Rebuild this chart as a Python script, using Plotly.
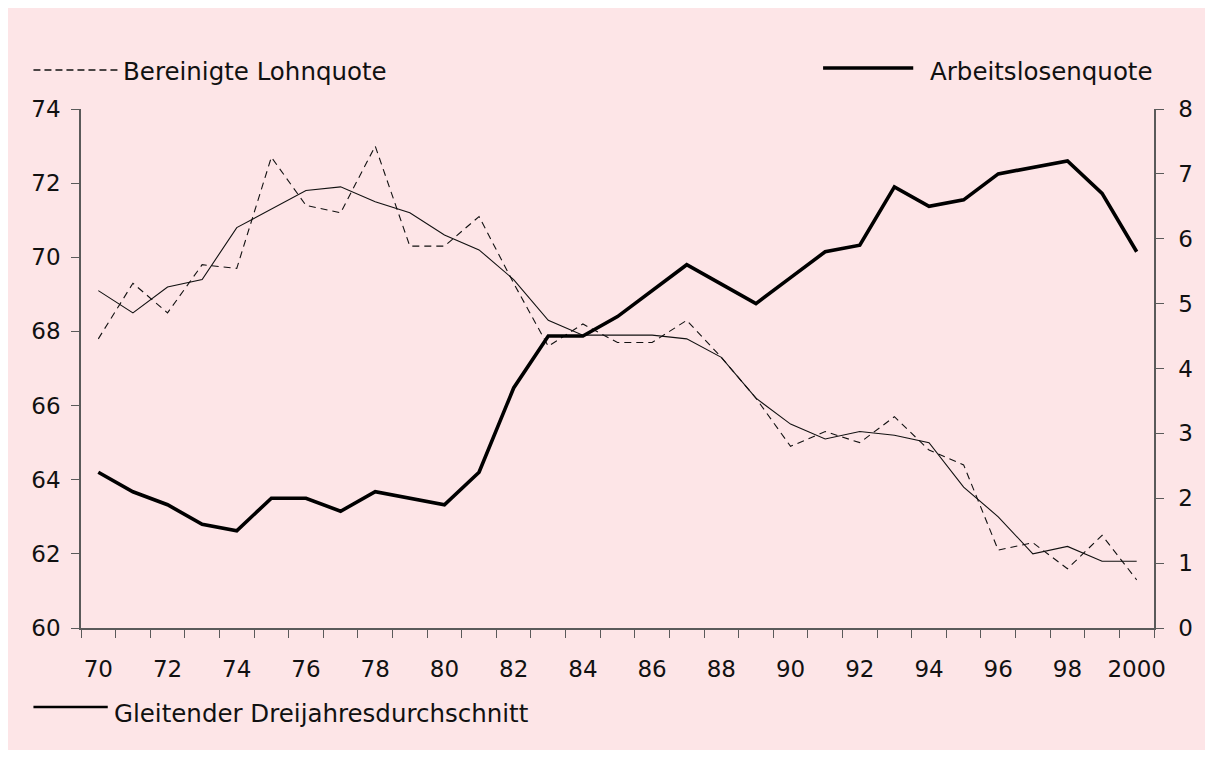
import plotly.graph_objects as go

years = list(range(1970, 2001))
lohnquote = [67.8, 69.3, 68.5, 69.8, 69.7, 72.7, 71.4, 71.2, 73.0, 70.3,
             70.3, 71.1, 69.3, 67.6, 68.2, 67.7, 67.7, 68.3, 67.3, 66.2,
             64.9, 65.3, 65.0, 65.7, 64.8, 64.4, 62.1, 62.3, 61.6, 62.5, 61.3]
gleitend = [69.1, 68.5, 69.2, 69.4, 70.8, 71.3, 71.8, 71.9, 71.5, 71.2,
            70.6, 70.2, 69.4, 68.3, 67.9, 67.9, 67.9, 67.8, 67.3, 66.2,
            65.5, 65.1, 65.3, 65.2, 65.0, 63.8, 63.0, 62.0, 62.2, 61.8, 61.8]
arbeitslos = [2.4, 2.1, 1.9, 1.6, 1.5, 2.0, 2.0, 1.8, 2.1, 2.0,
              1.9, 2.4, 3.7, 4.5, 4.5, 4.8, 5.2, 5.6, 5.3, 5.0,
              5.4, 5.8, 5.9, 6.8, 6.5, 6.6, 7.0, 7.1, 7.2, 6.7, 5.8]
x_tickvals = list(range(1970, 2001, 2))
x_ticktext = ["70", "72", "74", "76", "78", "80", "82", "84", "86", "88",
              "90", "92", "94", "96", "98", "2000"]
name_lohn = "Bereinigte Lohnquote"
name_alq = "Arbeitslosenquote"
name_gleit = "Gleitender Dreijahresdurchschnitt"

OFF = 8  # page body margin
W, H = 1213 - 2 * OFF, 758 - 2 * OFF
L, R, T, B = 81 - OFF, 1164 - OFF, 109 - OFF, 628 - OFF
PINK = "#FDE5E7"
AX = "#5a5a5a"
FONT = "DejaVu Sans"
FS = 23
FS_LEG = 24.5

fig = go.Figure()
fig.add_trace(go.Scatter(x=years, y=lohnquote, mode="lines", name=name_lohn,
                         line=dict(color="#111", width=1.1, dash="7px,5px")))
fig.add_trace(go.Scatter(x=years, y=gleitend, mode="lines", name=name_gleit,
                         line=dict(color="#111", width=1.1)))
fig.add_trace(go.Scatter(x=years, y=arbeitslos, mode="lines", name=name_alq,
                         yaxis="y2", line=dict(color="#000", width=3.6)))


def px(xs):
    return (xs - OFF - L) / (R - L)


def py(ys):
    return (B - (ys - OFF)) / (B - T)


shapes = [
    dict(type="line", xref="paper", yref="paper", x0=px(33), x1=px(118),
         y0=py(70), y1=py(70), line=dict(color="#111", width=1.3, dash="7px,4px")),
    dict(type="line", xref="paper", yref="paper", x0=px(830), x1=px(921),
         y0=py(68), y1=py(68), line=dict(color="#000", width=3.4)),
    dict(type="line", xref="paper", yref="paper", x0=px(33), x1=px(108),
         y0=py(707), y1=py(707), line=dict(color="#000", width=2.6)),
]
annotations = [
    dict(text=name_lohn, xref="paper", yref="paper", x=px(121), y=py(71),
         xanchor="left", yanchor="middle", showarrow=False,
         font=dict(family=FONT, size=FS_LEG, color="#111")),
    dict(text=name_alq, xref="paper", yref="paper", x=px(936), y=py(71),
         xanchor="left", yanchor="middle", showarrow=False,
         font=dict(family=FONT, size=FS_LEG, color="#111")),
    dict(text=name_gleit, xref="paper", yref="paper", x=px(112), y=py(713),
         xanchor="left", yanchor="middle", showarrow=False,
         font=dict(family=FONT, size=FS_LEG, color="#111")),
]

fig.update_layout(
    width=W, height=H,
    margin=dict(l=L, r=W - R, t=T, b=H - B, pad=0),
    paper_bgcolor=PINK, plot_bgcolor=PINK,
    showlegend=False,
    font=dict(family=FONT, size=FS, color="#111"),
    shapes=shapes, annotations=annotations,
    xaxis=dict(range=[1969.5, 2000.5], tickmode="array", tickvals=x_tickvals,
               ticktext=x_ticktext, ticks="", showgrid=False, zeroline=False,
               showline=True, linecolor=AX, linewidth=1.5,
               ticklabelstandoff=20,
               minor=dict(tickmode="linear", tick0=1969.5, dtick=1,
                          ticks="outside", ticklen=8, tickcolor=AX,
                          tickwidth=1.3, showgrid=False)),
    yaxis=dict(range=[60, 74], dtick=2, ticks="outside", ticklen=8,
               tickcolor=AX, tickwidth=1.3, showgrid=False, zeroline=False,
               showline=True, linecolor=AX, linewidth=1.5,
               ticklabelstandoff=6),
    yaxis2=dict(range=[0, 8], dtick=1, overlaying="y", side="right",
                ticks="outside", ticklen=8, tickcolor=AX, tickwidth=1.3,
                showgrid=False, zeroline=False, showline=True, linecolor=AX,
                linewidth=1.5, ticklabelstandoff=10),
)

fig.write_html("out.html")
